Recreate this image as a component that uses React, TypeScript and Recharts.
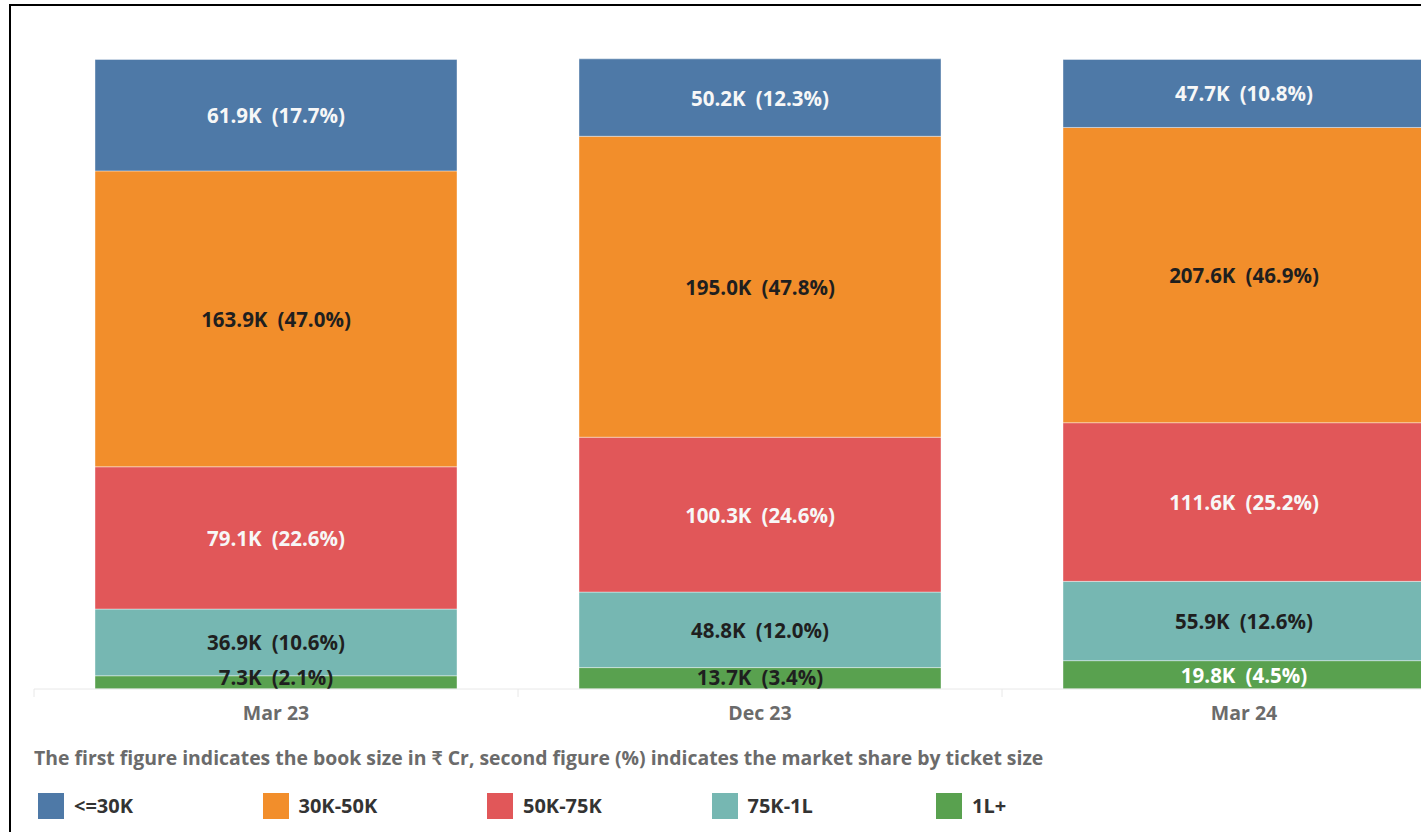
import React from "react";
import { Bar, BarChart, LabelList, XAxis, YAxis } from "recharts";

// periods on the x axis
const categories = ["Mar 23", "Dec 23", "Mar 24"];

// book size in K (₹ Cr) per ticket-size bucket
const upTo30kBook = [61.9, 50.2, 47.7];
const k30to50Book = [163.9, 195.0, 207.6];
const k50to75Book = [79.1, 100.3, 111.6];
const k75to1LBook = [36.9, 48.8, 55.9];
const above1LBook = [7.3, 13.7, 19.8];

// market share (%) per bucket
const upTo30kShare = [17.7, 12.3, 10.8];
const k30to50Share = [47.0, 47.8, 46.9];
const k50to75Share = [22.6, 24.6, 25.2];
const k75to1LShare = [10.6, 12.0, 12.6];
const above1LShare = [2.1, 3.4, 4.5];

const caption =
  "The first figure indicates the book size in ₹ Cr, second figure (%) indicates the market share by ticket size";

// stacked bottom -> top
const series = [
  { key: "above1L", name: "1L+", color: "#59a14f", text: "#ffffff", book: above1LBook, share: above1LShare },
  { key: "k75to1L", name: "75K-1L", color: "#76b7b2", text: "#1f1f1f", book: k75to1LBook, share: k75to1LShare },
  { key: "k50to75", name: "50K-75K", color: "#e15759", text: "#f7f7f7", book: k50to75Book, share: k50to75Share },
  { key: "k30to50", name: "30K-50K", color: "#f28e2b", text: "#1f1f1f", book: k30to50Book, share: k30to50Share },
  { key: "upTo30k", name: "<=30K", color: "#4e79a7", text: "#f7f7f7", book: upTo30kBook, share: upTo30kShare },
];

const legendOrder = [...series].reverse();

const data = categories.map((period, i) => {
  const row: Record<string, string | number> = { period };
  series.forEach((s) => {
    row[s.key] = s.share[i];
  });
  return row;
});

const FONT = "'Open Sans', Lato, sans-serif";

const makeLabel = (s: (typeof series)[number]) => (props: any) => {
  const { x, y, width, height, index } = props;
  const bottom = y + height;
  // small segments: keep the text inside the plot and use dark text
  const cy = Math.min(y + height / 2, bottom - 12.5);
  const fill = height < 22 ? "#1f1f1f" : s.text;
  return (
    <text
      x={x + width / 2}
      y={cy}
      textAnchor="middle"
      dominantBaseline="central"
      fill={fill}
      fontSize={20.5}
      fontWeight={700}
      fontFamily={FONT}
    >
      <tspan>{`${s.book[index].toFixed(1)}K`}</tspan>
      <tspan dx={10}>{`(${s.share[index].toFixed(1)}%)`}</tspan>
    </text>
  );
};

const PeriodTick = (props: any) => {
  const { x, y, payload } = props;
  const half = payload?.offset ?? 0;
  return (
    <g>
      <line x1={x - half} x2={x - half} y1={y} y2={y + 8} stroke="#e8e8e8" />
      <text
        x={x}
        y={y + 23}
        textAnchor="middle"
        dominantBaseline="central"
        fill="#6b6b6b"
        fontSize={19.5}
        fontWeight={700}
        fontFamily={FONT}
      >
        {payload.value}
      </text>
    </g>
  );
};

export default function App() {
  return (
    <div
      style={{
        position: "fixed",
        left: 0,
        top: 0,
        width: 1421,
        height: 832,
        overflow: "hidden",
        background: "#fff",
        fontFamily: FONT,
      }}
    >
      {/* frame */}
      <div
        style={{
          position: "absolute",
          left: 9,
          top: 4,
          width: 1500,
          height: 900,
          borderLeft: "2px solid #000",
          borderTop: "2px solid #000",
        }}
      />

      <div style={{ position: "absolute", left: 0, top: 0 }}>
        <BarChart
          width={1486}
          height={832}
          data={data}
          margin={{ top: 28, right: 0, left: 34, bottom: 103 }}
        >
          <XAxis
            dataKey="period"
            height={40}
            tickLine={false}
            tickSize={0}
            tickMargin={0}
            axisLine={{ stroke: "#e8e8e8" }}
            tick={<PeriodTick />}
            interval={0}
          />
          <YAxis
            type="number"
            domain={[0, 105]}
            width={0}
            tick={false}
            tickLine={false}
            axisLine={{ stroke: "#f0f0f0" }}
          />
          {series.map((s) => (
            <Bar
              key={s.key}
              dataKey={s.key}
              name={s.name}
              stackId="book"
              fill={s.color}
              stroke="#ffffff"
              strokeOpacity={0.4}
              strokeWidth={1}
              barSize={362}
              isAnimationActive={false}
            >
              <LabelList dataKey={s.key} content={makeLabel(s)} />
            </Bar>
          ))}
        </BarChart>
      </div>

      <div
        style={{
          position: "absolute",
          left: 34,
          top: 745,
          fontSize: 19.4,
          fontWeight: 700,
          color: "#6b6b6b",
          whiteSpace: "nowrap",
          lineHeight: "26px",
        }}
      >
        {caption}
      </div>

      <div style={{ position: "absolute", left: 38, top: 792, display: "flex" }}>
        {legendOrder.map((s) => (
          <div
            key={s.key}
            style={{ width: 224.5, display: "flex", alignItems: "center" }}
          >
            <span
              style={{
                width: 26,
                height: 26,
                background: s.color,
                display: "inline-block",
                marginRight: 10,
              }}
            />
            <span style={{ fontSize: 20, fontWeight: 700, color: "#333" }}>
              {s.name}
            </span>
          </div>
        ))}
      </div>
    </div>
  );
}
